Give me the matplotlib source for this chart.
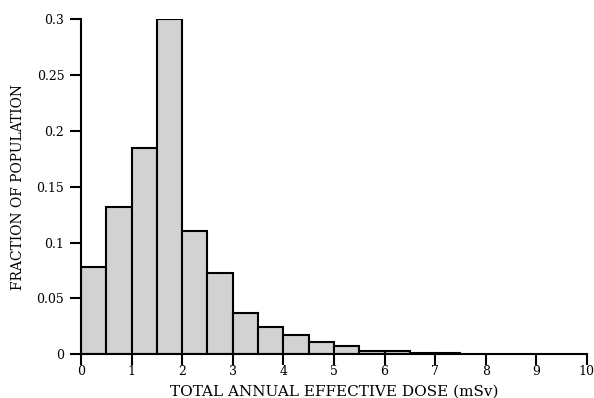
import matplotlib
matplotlib.use("Agg")
import matplotlib.pyplot as plt
import numpy as np

# Histogram of annual effective dose (bin width 0.5 mSv)
bin_edges = [0, 0.5, 1.0, 1.5, 2.0, 2.5, 3.0, 3.5, 4.0, 4.5, 5.0, 5.5, 6.0, 6.5, 7.0, 7.5]
fractions = [0.078, 0.132, 0.185, 0.300, 0.110, 0.073, 0.037, 0.024, 0.017,
             0.011, 0.0074, 0.003, 0.003, 0.0015, 0.0015]
x_ticks = [0, 1, 2, 3, 4, 5, 6, 7, 8, 9, 10]
y_ticks = [0, 0.05, 0.1, 0.15, 0.2, 0.25, 0.3]
y_tick_labels = ["0", "0.05", "0.1", "0.15", "0.2", "0.25", "0.3"]

plt.rcParams['font.family'] = ['DejaVu Serif']

fig = plt.figure(figsize=(5.94, 3.98), dpi=100)
ax = fig.add_axes([0.1364, 0.1098, 0.988 - 0.1364, 0.952 - 0.1098])

left = np.array(bin_edges[:-1])
widths = np.diff(bin_edges)
ax.bar(left, fractions, width=widths, align='edge', color='#d2d2d2',
       edgecolor='black', linewidth=1.5)

ax.set_xlim(0, 10)
ax.set_ylim(0, 0.3)
ax.set_xticks(x_ticks)
ax.set_xticklabels([str(t) for t in x_ticks])
ax.set_yticks(y_ticks)
ax.set_yticklabels(y_tick_labels)

for s in ['top', 'right']:
    ax.spines[s].set_visible(False)
for s in ['left', 'bottom']:
    ax.spines[s].set_linewidth(1.5)
ax.tick_params(axis='x', direction='out', length=8, width=1.5,
               labelsize=9, pad=0)
ax.tick_params(axis='y', direction='out', length=8, width=1.5,
               labelsize=9, pad=4)

ax.set_xlabel("TOTAL ANNUAL EFFECTIVE DOSE (mSv)", fontsize=11, labelpad=4.5)
ax.set_ylabel("FRACTION OF POPULATION", fontsize=10, labelpad=8)

fig.savefig("out.png", dpi=100)
